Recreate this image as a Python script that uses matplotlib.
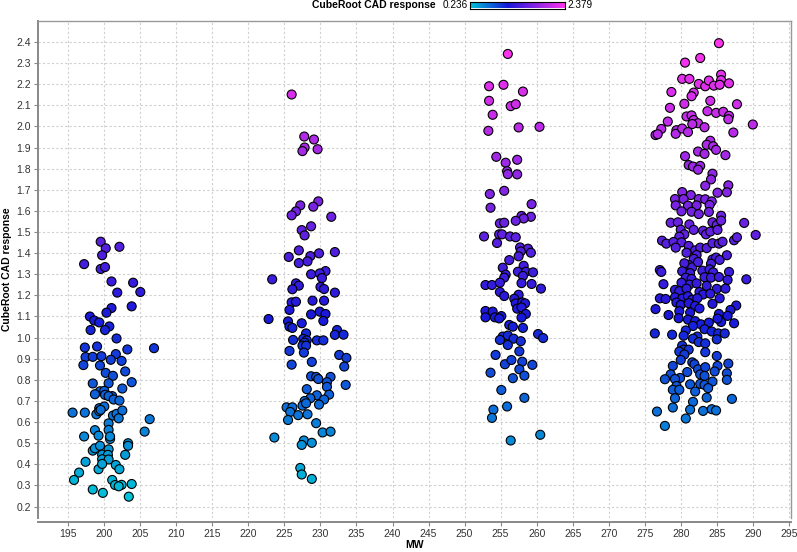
import numpy as np
import matplotlib
matplotlib.use("Agg")
import matplotlib.pyplot as plt
from matplotlib.colors import LinearSegmentedColormap, Normalize

plt.rcParams['font.family'] = ['Liberation Sans', 'DejaVu Sans']

# MW ~200 group
mw_200 = [199.5, 200.2, 202.1, 199.7, 197.2, 199.5, 200.1, 201.0, 204.0, 201.8, 205.0, 201.0, 203.8,
          200.3, 198.0, 198.6, 199.3, 200.7, 198.1, 200.1, 201.7, 197.3, 199.0, 203.2, 206.9, 197.4,
          198.4, 199.6, 201.6, 200.9, 202.4, 197.1, 199.4, 202.9, 200.2, 201.2, 198.4, 200.6, 203.8,
          202.5, 199.4, 200.0, 198.7, 200.1, 201.1, 200.6, 201.3, 202.1, 199.3, 200.0, 195.6, 197.3,
          198.9, 199.3, 199.5, 201.2, 201.7, 202.5, 202.0, 206.3, 200.6, 198.7, 200.6, 205.6, 197.2,
          199.2, 200.8, 200.8, 203.3, 203.3, 198.4, 198.7, 199.4, 200.6, 199.7, 200.5, 202.9, 199.7,
          200.6, 197.4, 199.2, 199.7, 201.6, 202.1, 196.5, 195.8, 201.1, 201.5, 202.4, 202.0, 203.8,
          198.4, 199.8, 203.4]
cad_200 = [1.454, 1.423, 1.430, 1.390, 1.348, 1.325, 1.334, 1.266, 1.260, 1.213, 1.216, 1.140, 1.148,
           1.118, 1.100, 1.081, 1.072, 1.053, 1.036, 1.036, 0.996, 0.953, 0.958, 0.944, 0.950, 0.908,
           0.909, 0.912, 0.922, 0.895, 0.890, 0.870, 0.868, 0.840, 0.833, 0.819, 0.783, 0.784, 0.789,
           0.759, 0.746, 0.748, 0.732, 0.729, 0.723, 0.723, 0.707, 0.702, 0.666, 0.674, 0.645, 0.645,
           0.637, 0.652, 0.658, 0.631, 0.639, 0.655, 0.618, 0.614, 0.594, 0.562, 0.563, 0.555, 0.532,
           0.536, 0.520, 0.532, 0.500, 0.488, 0.465, 0.476, 0.488, 0.471, 0.446, 0.445, 0.445, 0.424,
           0.423, 0.412, 0.377, 0.402, 0.397, 0.377, 0.361, 0.326, 0.326, 0.302, 0.303, 0.296, 0.307,
           0.281, 0.265, 0.247]

# MW ~228 group
mw_228 = [226.0, 227.75, 229.1, 227.8, 227.5, 229.6, 229.7, 227.2, 229.0, 226.6, 226.0, 231.5, 228.7,
          227.4, 227.8, 227.0, 232.0, 229.8, 225.6, 228.6, 228.2, 227.0, 228.7, 223.3, 230.7, 229.9,
          230.2, 226.6, 227.0, 226.1, 230.0, 230.5, 232.0, 226.0, 226.6, 228.9, 230.5, 225.7, 228.7,
          229.9, 230.7, 222.8, 225.5, 225.7, 226.1, 227.4, 230.4, 228.0, 232.3, 232.0, 233.2, 226.2,
          227.6, 228.1, 229.5, 230.4, 227.8, 227.5, 228.0, 227.7, 225.7, 232.6, 233.6, 226.0, 228.8,
          233.3, 228.7, 229.4, 229.7, 231.4, 230.9, 230.9, 233.5, 228.1, 229.5, 228.6, 231.2, 227.8,
          227.5, 228.0, 230.5, 229.8, 225.3, 226.1, 225.8, 226.9, 228.2, 225.5, 229.4, 230.3, 231.4,
          223.6, 227.7, 227.4, 228.8, 227.2, 227.4, 228.8]
cad_228 = [2.151, 1.952, 1.938, 1.900, 1.883, 1.892, 1.645, 1.626, 1.620, 1.598, 1.579, 1.572, 1.527,
           1.509, 1.484, 1.413, 1.405, 1.399, 1.382, 1.386, 1.361, 1.353, 1.300, 1.276, 1.315, 1.304,
           1.282, 1.257, 1.246, 1.229, 1.240, 1.230, 1.213, 1.167, 1.170, 1.175, 1.175, 1.131, 1.110,
           1.123, 1.112, 1.088, 1.077, 1.052, 1.046, 1.068, 1.079, 1.020, 1.036, 1.013, 1.014, 0.989,
           0.994, 0.987, 0.987, 0.987, 0.976, 0.962, 0.962, 0.929, 0.937, 0.918, 0.904, 0.872, 0.885,
           0.863, 0.817, 0.814, 0.804, 0.814, 0.789, 0.767, 0.776, 0.756, 0.727, 0.713, 0.730, 0.700,
           0.678, 0.689, 0.707, 0.683, 0.670, 0.670, 0.648, 0.633, 0.637, 0.610, 0.595, 0.551, 0.555,
           0.527, 0.513, 0.492, 0.502, 0.383, 0.352, 0.331]

# MW ~256 group
mw_256 = [256.0, 253.4, 255.4, 258.1, 253.4, 256.4, 257.1, 253.9, 253.3, 257.5, 260.4, 254.4, 255.7,
          257.3, 255.9, 256.0, 257.3, 253.5, 255.5, 253.6, 259.3, 257.9, 259.2, 258.2, 257.1, 254.9,
          255.5, 252.7, 254.8, 255.2, 256.3, 257.1, 254.5, 257.7, 258.8, 257.8, 259.2, 257.5, 256.2,
          255.3, 258.2, 257.4, 258.5, 259.5, 255.7, 255.5, 258.1, 252.9, 253.8, 254.9, 257.9, 259.3,
          260.6, 254.9, 255.5, 257.5, 256.9, 257.1, 258.0, 258.4, 257.3, 257.9, 252.9, 253.9, 252.9,
          254.2, 255.1, 254.8, 258.5, 257.9, 256.2, 256.7, 258.1, 260.2, 260.9, 255.3, 256.0, 256.8,
          257.8, 254.9, 256.0, 257.6, 254.3, 255.6, 256.5, 258.0, 259.4, 257.6, 253.6, 258.3, 256.7,
          255.1, 258.3, 255.9, 254.0, 253.8, 260.5, 256.4]
cad_256 = [2.343, 2.190, 2.197, 2.165, 2.121, 2.096, 2.105, 2.055, 1.979, 1.995, 1.998, 1.856, 1.828,
           1.842, 1.788, 1.774, 1.773, 1.680, 1.695, 1.615, 1.632, 1.576, 1.572, 1.564, 1.553, 1.541,
           1.544, 1.479, 1.489, 1.489, 1.479, 1.475, 1.448, 1.427, 1.421, 1.408, 1.402, 1.385, 1.367,
           1.331, 1.340, 1.312, 1.312, 1.309, 1.298, 1.284, 1.292, 1.249, 1.249, 1.260, 1.258, 1.254,
           1.232, 1.216, 1.197, 1.203, 1.184, 1.162, 1.167, 1.162, 1.137, 1.143, 1.126, 1.123, 1.096,
           1.096, 1.102, 1.091, 1.112, 1.095, 1.060, 1.052, 1.046, 1.017, 0.998, 1.005, 1.010, 0.995,
           0.983, 0.989, 0.965, 0.935, 0.918, 0.874, 0.894, 0.886, 0.871, 0.850, 0.834, 0.820, 0.808,
           0.752, 0.715, 0.674, 0.659, 0.620, 0.540, 0.513]

# MW ~283 group
mw_283 = [285.3, 282.7, 280.6, 280.2, 281.2, 282.5, 283.4, 283.9, 284.6, 285.6, 285.6, 285.4, 286.7,
          278.7, 281.8, 281.5, 284.1, 280.5, 287.8, 278.5, 283.7, 284.9, 285.9, 286.7, 286.6, 280.8,
          281.5, 281.8, 282.4, 281.6, 278.2, 283.3, 290.0, 277.3, 276.5, 276.8, 279.4, 279.3, 280.2,
          281.0, 287.3, 284.1, 283.6, 284.5, 284.9, 282.4, 283.3, 286.2, 280.6, 281.1, 281.7, 282.7,
          282.4, 284.4, 284.2,
          283.4, 286.6, 286.4, 280.2, 281.4, 285.1, 279.2, 280.4, 282.5, 283.4, 284.3, 279.3, 281.0,
          282.2, 284.0, 280.1, 281.5, 282.5, 283.9, 285.6, 278.6, 279.6, 281.2, 284.4, 285.0, 285.6,
          288.8, 280.0, 281.8, 283.1, 283.5, 284.1, 285.1, 280.5, 279.8, 277.4, 278.0, 279.0, 280.1,
          279.3, 281.1, 282.0, 282.7, 283.6, 284.4, 285.3, 285.8, 287.4, 287.8, 290.4, 280.8, 282.2,
          281.8, 284.4, 284.9, 285.4, 286.4, 281.1, 280.5, 281.6, 282.4, 284.2, 277.1, 277.3, 280.2,
          281.3, 283.0, 284.0, 284.5, 286.7, 280.7, 281.5, 283.3, 284.2, 285.3, 286.5, 289.1, 277.6,
          281.2, 280.1, 282.2, 283.6, 285.0, 286.2, 279.2, 279.8, 280.8, 282.6, 283.1, 284.1, 285.4,
          277.1, 277.9, 279.2, 280.2, 281.0, 281.6, 282.3, 279.4, 280.0, 281.1, 282.0, 282.6, 284.4,
          276.5, 279.8, 281.3, 287.7, 286.9, 285.3, 286.5, 278.3, 279.7, 281.0, 282.0, 282.8, 283.9,
          285.6, 285.1, 287.4, 281.7, 283.3, 284.3, 280.7,
          276.4, 278.8, 280.4, 282.3, 285.2, 286.1, 281.7, 282.5, 283.4, 285.0, 280.2, 280.4, 279.8,
          281.1, 280.5, 280.0, 283.4, 285.0, 281.6, 281.9, 278.9, 280.9, 282.4, 282.7, 283.4, 285.1,
          286.6, 284.7, 286.4, 278.6, 279.9, 279.2, 277.8, 283.3, 282.7, 283.3, 284.4, 286.4, 279.4,
          278.9, 279.8, 281.3, 282.0, 283.8, 279.2, 283.6, 287.1, 281.7, 278.9, 281.3, 283.1, 284.3,
          284.9, 276.7, 280.7, 277.8]
cad_283 = [2.394, 2.324, 2.302, 2.225, 2.225, 2.201, 2.190, 2.217, 2.193, 2.245, 2.219, 2.197, 2.204,
           2.163, 2.160, 2.143, 2.121, 2.107, 2.105, 2.088, 2.072, 2.064, 2.069, 2.050, 2.034, 2.047,
           2.052, 2.030, 2.015, 2.011, 2.023, 1.996, 2.009, 1.988, 1.959, 1.963, 1.982, 1.965, 1.990,
           1.973, 1.971, 1.932, 1.913, 1.906, 1.889, 1.881, 1.870, 1.864, 1.859, 1.817, 1.810, 1.813,
           1.795, 1.776, 1.749,
           1.719, 1.721, 1.688, 1.689, 1.675, 1.686, 1.656, 1.656, 1.656, 1.655, 1.645, 1.626, 1.625,
           1.626, 1.628, 1.598, 1.596, 1.585, 1.595, 1.577, 1.544, 1.546, 1.536, 1.546, 1.533, 1.554,
           1.543, 1.511, 1.510, 1.506, 1.489, 1.502, 1.510, 1.489, 1.478, 1.459, 1.445, 1.453, 1.451,
           1.426, 1.434, 1.413, 1.426, 1.424, 1.447, 1.445, 1.454, 1.461, 1.475, 1.486, 1.402, 1.391,
           1.373, 1.370, 1.379, 1.368, 1.390, 1.344, 1.352, 1.333, 1.358, 1.350, 1.320, 1.311, 1.314,
           1.305, 1.317, 1.323, 1.309, 1.311, 1.284, 1.278, 1.286, 1.284, 1.287, 1.273, 1.276, 1.253,
           1.251, 1.260, 1.257, 1.245, 1.231, 1.232, 1.226, 1.220, 1.232, 1.216, 1.204, 1.208, 1.186,
           1.186, 1.183, 1.191, 1.185, 1.196, 1.180, 1.186, 1.166, 1.155, 1.163, 1.150, 1.138, 1.160,
           1.135, 1.125, 1.119, 1.152, 1.131, 1.112, 1.103, 1.107, 1.092, 1.085, 1.078, 1.063, 1.071,
           1.074, 1.090, 1.068, 1.055, 1.040, 1.029, 1.034,
           1.020, 1.014, 1.009, 1.005, 1.020, 1.020, 0.995, 0.979, 0.973, 0.992, 0.962, 0.943, 0.934,
           0.943, 0.920, 0.894, 0.931, 0.913, 0.883, 0.874, 0.866, 0.837, 0.850, 0.826, 0.860, 0.866,
           0.877, 0.840, 0.831, 0.826, 0.809, 0.804, 0.803, 0.819, 0.781, 0.776, 0.792, 0.800, 0.771,
           0.753, 0.753, 0.779, 0.745, 0.761, 0.713, 0.716, 0.710, 0.696, 0.669, 0.659, 0.653, 0.661,
           0.655, 0.650, 0.617, 0.582]

cad_min, cad_max = 0.236, 2.379
x_ticks = list(range(195, 296, 5))
y_ticks = [round(0.2 + 0.1 * i, 1) for i in range(23)]

mw = np.array(mw_200 + mw_228 + mw_256 + mw_283)
cad = np.array(cad_200 + cad_228 + cad_256 + cad_283)

cmap = LinearSegmentedColormap.from_list(
    "cad", [(0.0, "#00C4D8"), (0.40, "#1818DA"), (1.0, "#FF33EE")])
norm = Normalize(vmin=cad_min, vmax=cad_max)

W, H = 797, 552
fig = plt.figure(figsize=(W / 100, H / 100), dpi=100)
ax = fig.add_axes([38 / W, 1 - 518 / H, (791 - 38) / W, (518 - 21) / H])

ax.scatter(mw, cad, c=cad, cmap=cmap, norm=norm, s=42,
           edgecolors="black", linewidths=0.8, zorder=3)

ax.set_xlim(190.8, 295.3)
ax.set_ylim(0.146, 2.499)
ax.set_xticks(x_ticks)
ax.set_yticks(y_ticks)
ax.set_yticklabels([f"{v:.1f}" for v in y_ticks])
ax.grid(True, color="#D0D0D0", linestyle=(0, (2, 2)), linewidth=0.8, zorder=0)
ax.tick_params(axis="both", labelsize=7.5, labelcolor="#333333", length=3,
               width=0.8, pad=2, color="#888888")

for side in ["top", "right"]:
    ax.spines[side].set_color("#999999")
    ax.spines[side].set_linewidth(1.0)
ax.spines["left"].set_color("#888888")
ax.spines["left"].set_linewidth(1.4)
ax.spines["bottom"].set_color("#888888")
ax.spines["bottom"].set_linewidth(1.4)
ax.spines["bottom"].set_position(("outward", 3))

ax.set_xlabel("MW", fontsize=7.5, fontweight="bold", labelpad=1)
ax.set_ylabel("CubeRoot CAD response", fontsize=7.5, fontweight="bold", labelpad=3)

# colour legend at the top
cax = fig.add_axes([470 / W, 1 - 8.5 / H, 95 / W, 7 / H])
cax.imshow(np.linspace(0, 1, 256)[None, :], aspect="auto", cmap=cmap)
cax.set_xticks([])
cax.set_yticks([])
for s in cax.spines.values():
    s.set_color("black")
    s.set_linewidth(0.8)

fig.text(436 / W, 1 - 5 / H, "CubeRoot CAD response", fontsize=7.5,
         fontweight="bold", ha="right", va="center")
fig.text(468 / W, 1 - 5 / H, f"{cad_min:.3f}", fontsize=7.2, ha="right", va="center")
fig.text(567 / W, 1 - 5 / H, f"{cad_max:.3f}", fontsize=7.2, ha="left", va="center")

fig.savefig("out.png", dpi=100)
